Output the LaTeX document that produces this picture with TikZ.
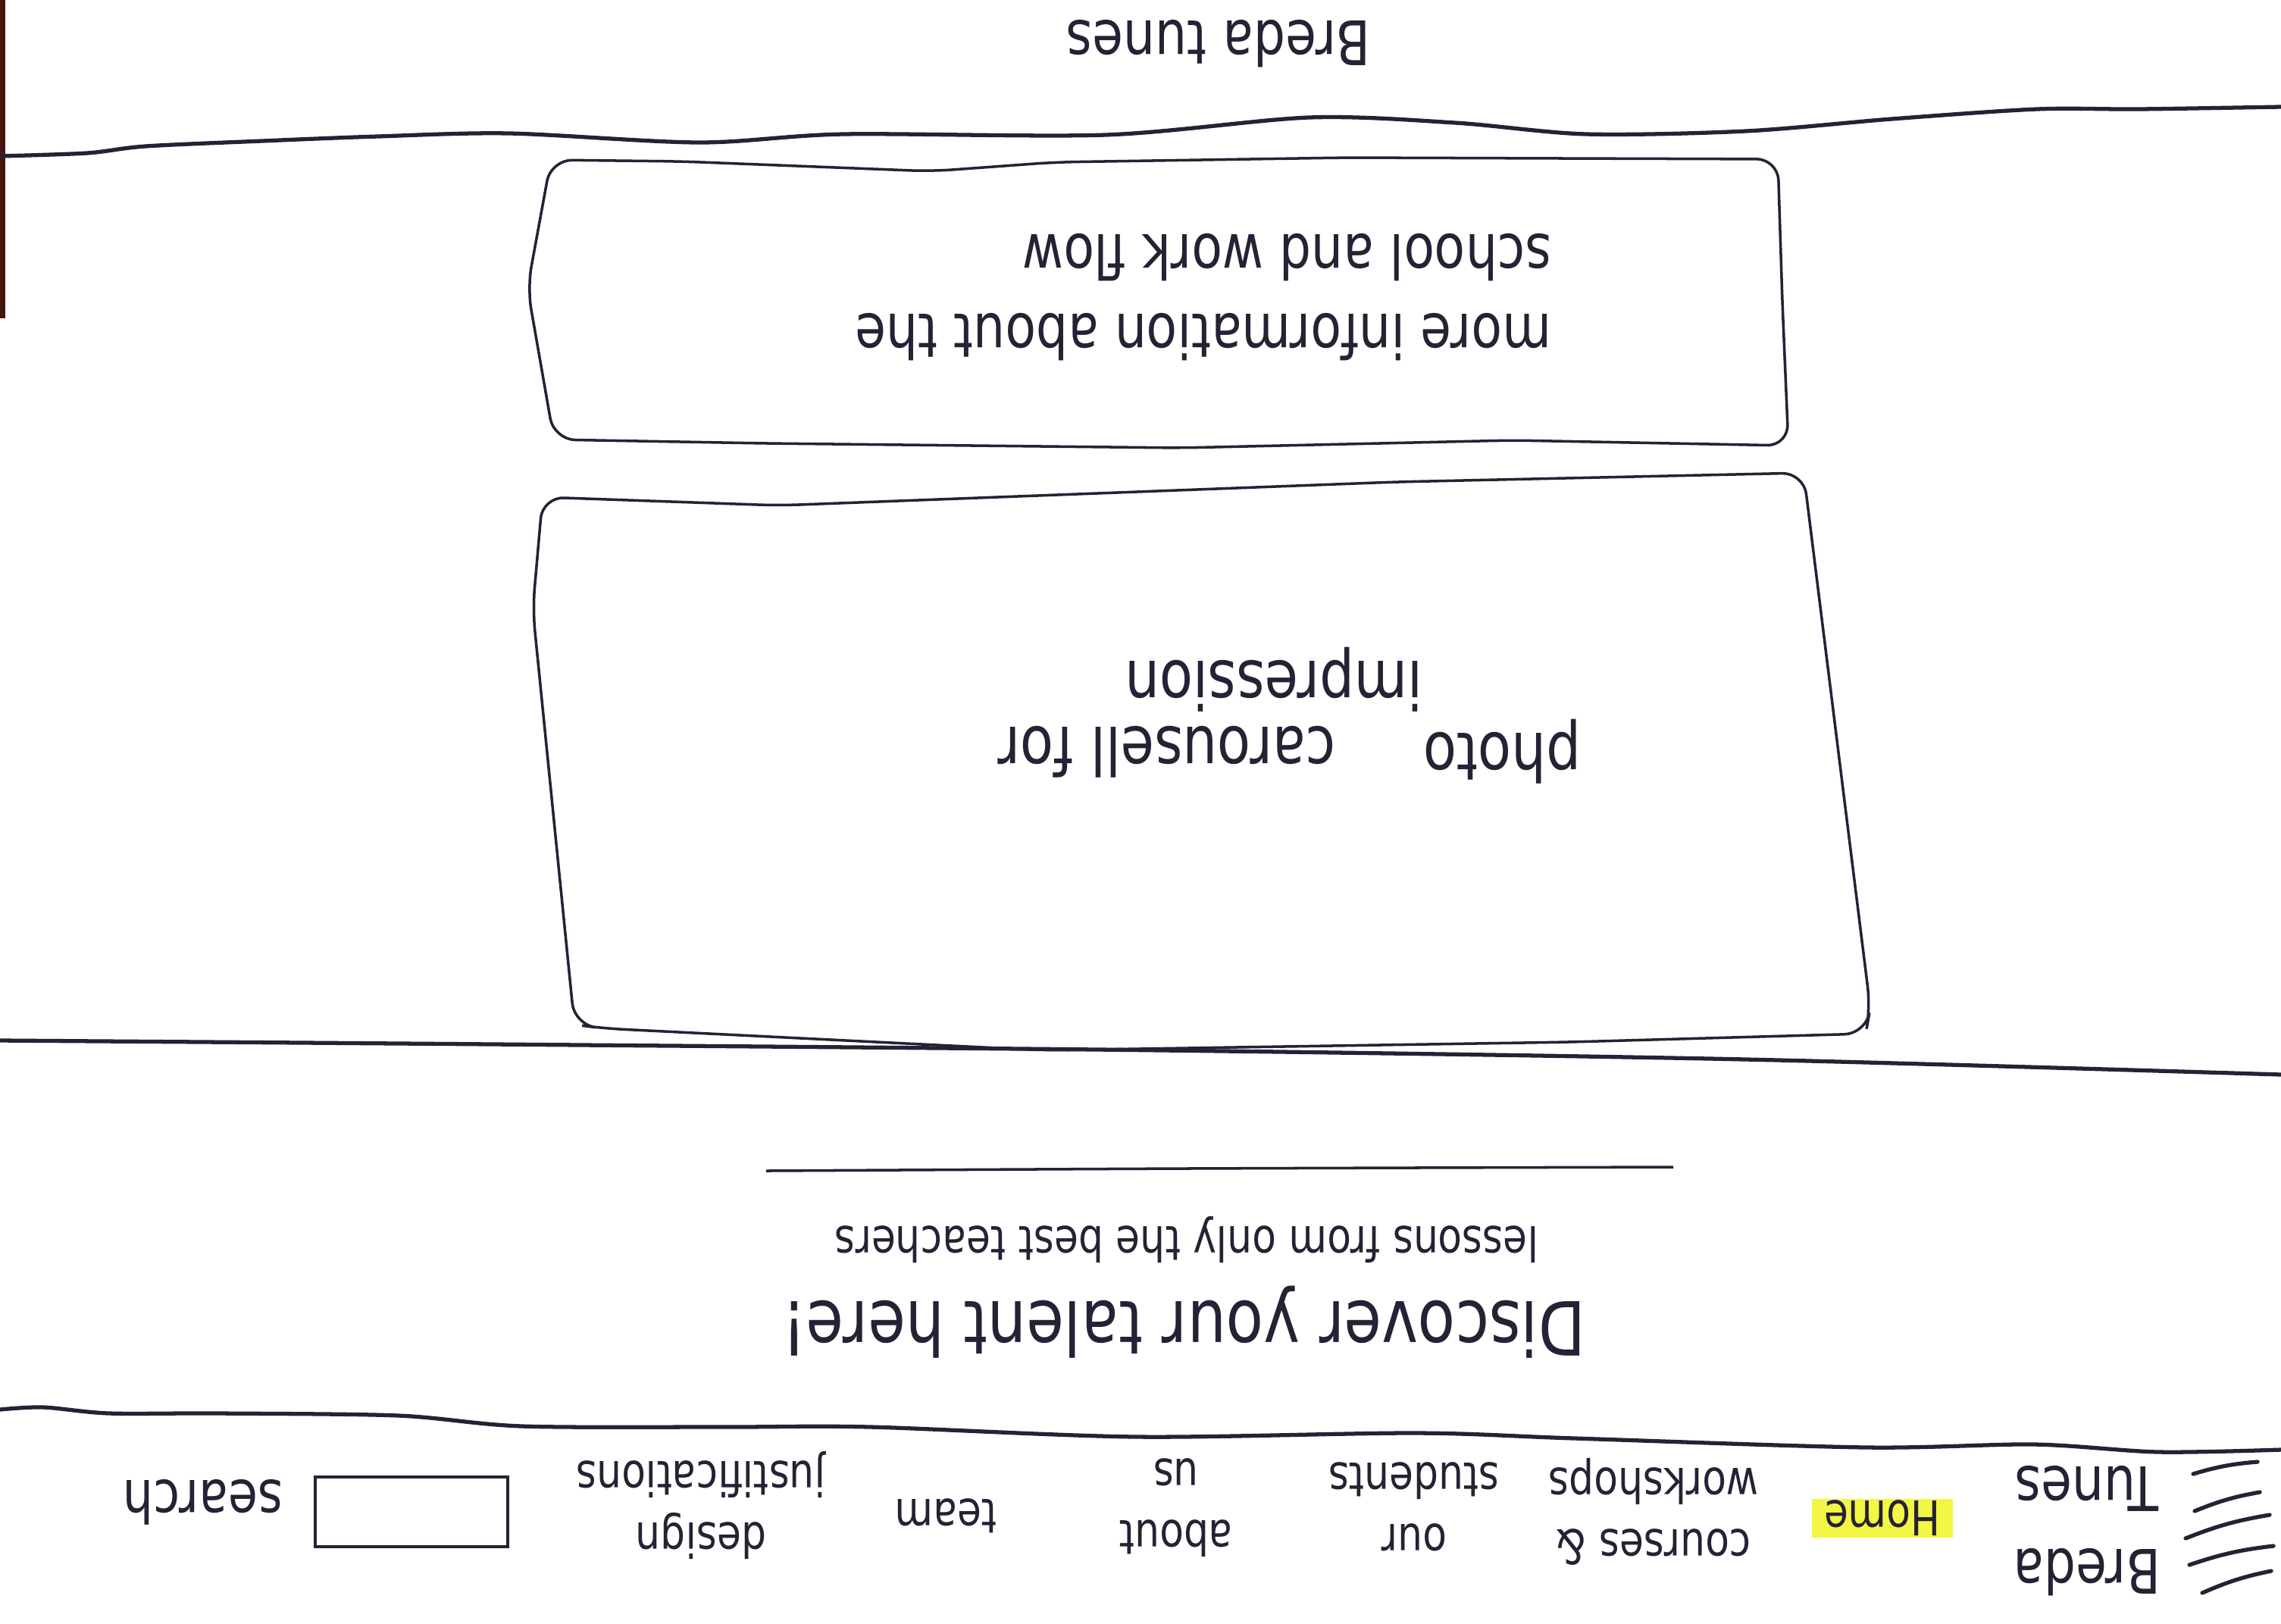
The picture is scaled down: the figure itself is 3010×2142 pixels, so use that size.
\documentclass[tikz,border=0pt]{standalone}
\usepackage{fontspec}
\setmainfont[FakeStretch=0.82]{DejaVu Sans}
\usepackage{tikz}
\definecolor{ink}{RGB}{36,34,52}
\definecolor{marker}{RGB}{243,246,68}
\definecolor{scanedge}{RGB}{70,20,15}

\begin{document}
\begin{tikzpicture}[x=0.01cm, y=-0.01cm,
    sepline/.style={draw=ink, line width=1.5pt, line cap=round, line join=round},
    panel/.style={draw=ink, line width=1pt, rounded corners=8pt},
    scribble/.style={text=ink, rotate=180, inner sep=0pt},
    navtext/.style={scribble, align=center, font=\fontsize{18}{23}\selectfont}]
    % sheet (scanned upside down)
    \fill[white] (0,0) rectangle (3010,2142);
    \useasboundingbox (0,0) rectangle (3010,2142);
    \fill[scanedge] (0,0) rectangle (7,420);

    % footer strip
    \node[scribble, font=\fontsize{23}{28}\selectfont] (title) at (1608,58) {Breda tunes};
    \draw[sepline] plot[smooth, tension=0.5] coordinates {(0,206) (115,202) (192,193) (346,186)
        (499,180) (672,176) (922,188) (1114,177) (1459,178) (1728,155) (1920,162) (2093,177)
        (2304,173) (2496,157) (2688,144) (2822,144) (3010,141)};

    % info panel
    \draw[panel] (1229,226) -- (1393,214) -- (1777,208) -- (2346,210) -- (2352,400)
        -- (2360,588) -- (1996,581) -- (1558,591) -- (1009,585) -- (731,580) -- (696,380)
        -- (727,211) -- (899,213) -- cycle;
    \node[scribble, align=left, font=\fontsize{23}{30}\selectfont] (info) at (1588,392)
        {more information about the\\school and work flow};

    % carousel panel
    \draw[panel] (1028,667) -- (1841,636) -- (2380,624) -- (2468,1330) -- (2462,1364)
        -- (2073,1375) -- (1377,1386) -- (796,1357) -- (758,1352) -- (703,804) -- (716,656)
        -- cycle;
    \node[scribble, font=\fontsize{25}{30}\selectfont] (photo) at (1982,992) {photo};
    \node[scribble, font=\fontsize{25}{30}\selectfont] (carousel) at (1540,992) {carousell for};
    \node[scribble, font=\fontsize{25}{30}\selectfont] (impression) at (1681,897) {impression};

    \draw[sepline] plot[smooth] coordinates {(0,1373) (400,1376) (768,1379) (1536,1386)
        (2304,1398) (3010,1418)};

    % hero
    \node[scribble, font=\fontsize{28}{34}\selectfont] (slogan) at (1562,1745) {Discover your talent here!};
    \node[scribble, font=\fontsize{18}{22}\selectfont] (subline) at (1566,1636) {lessons from only the best teachers};
    \draw[ink, line width=1pt] plot[smooth] coordinates {(1011,1545) (1562,1542) (2208,1540)};

    % navigation bar
    \draw[sepline] plot[smooth, tension=0.5] coordinates {(0,1860) (57,1857) (144,1865) (287,1865)
        (526,1868) (689,1882) (957,1883) (1148,1883) (1500,1896) (1866,1891) (2078,1898)
        (2463,1910) (2684,1906) (2848,1916) (3010,1913)};
    \node[scribble, font=\fontsize{22}{26}\selectfont] (search) at (268,1982) {search};
    \node[draw=ink, line width=1pt, minimum width=2.54cm, minimum height=0.92cm, inner sep=0pt]
        (searchbox) at (543,1995) {};
    \node[navtext] (design) at (925,1986) {design\\justifications};
    \node[navtext] (team) at (1248,2000) {team};
    \node[navtext] (about) at (1552,1990) {about\\us};
    \node[navtext] (students) at (1866,1988) {our\\students};
    \node[navtext] (courses) at (2182,1995) {courses \&\\workshops};
    \node[navtext, fill=marker, minimum width=1.85cm, minimum height=0.51cm] (home) at (2484,2003) {Home};
    \node[navtext, font=\fontsize{23}{31}\selectfont] (brand) at (2754,2020) {Breda\\Tunes};
    % hamburger
    \foreach \ax/\ay/\bx/\by in {2894/1945/2979/1929, 2896/1994/2982/1969, 2884/2030/2995/1999,
                                 2889/2065/3000/2040, 2906/2102/2997/2073}
        \draw[ink, line width=1.5pt, line cap=round] (\ax,\ay) to[bend left=6] (\bx,\by);
\end{tikzpicture}
\end{document}
